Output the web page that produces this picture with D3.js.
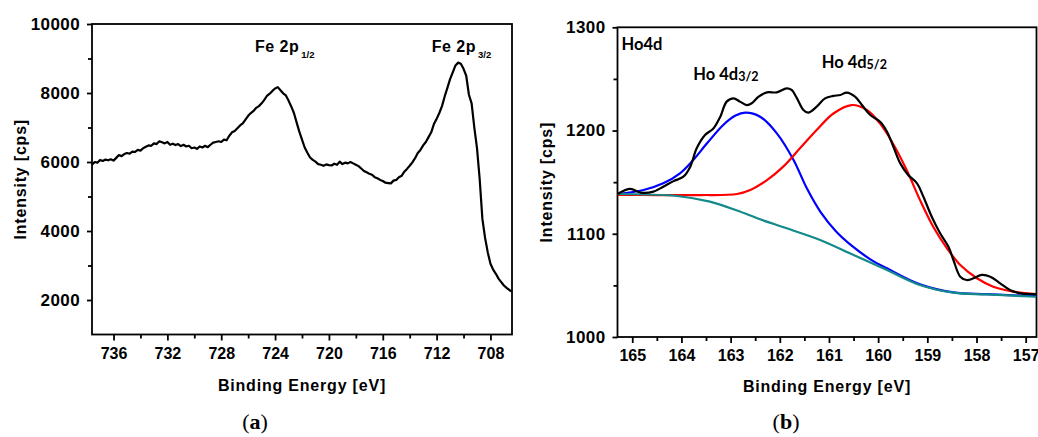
<!DOCTYPE html>
<html><head><meta charset="utf-8">
<script src="https://cdn.jsdelivr.net/npm/d3@7"></script>
<style>
body{margin:0;background:#fff;}
svg{display:block;}
</style></head>
<body><svg id="c" width="1038" height="437"></svg>
<script>
// ---------- Panel (a): Fe 2p ----------
const feEnergy = [737.6,737.4,737.2,737.0,736.8,736.6,736.4,736.2,736.0,735.8,735.6,735.4,735.2,735.0,734.8,734.6,734.4,734.2,734.0,733.8,733.6,733.4,733.2,733.0,732.8,732.6,732.4,732.2,732.0,731.8,731.6,731.4,731.2,731.0,730.8,730.6,730.4,730.2,730.0,729.8,729.6,729.4,729.2,729.0,728.8,728.6,728.4,728.2,728.0,727.8,727.6,727.4,727.2,727.0,726.8,726.6,726.4,726.2,726.0,725.8,725.6,725.4,725.2,725.0,724.8,724.6,724.4,724.2,724.0,723.8,723.6,723.4,723.2,723.0,722.8,722.6,722.4,722.2,722.0,721.8,721.6,721.4,721.2,721.0,720.8,720.6,720.4,720.2,720.0,719.8,719.6,719.4,719.2,719.0,718.8,718.6,718.4,718.2,718.0,717.8,717.6,717.4,717.2,717.0,716.8,716.6,716.4,716.2,716.0,715.8,715.6,715.4,715.2,715.0,714.8,714.6,714.4,714.2,714.0,713.8,713.6,713.4,713.2,713.0,712.8,712.6,712.4,712.2,712.0,711.8,711.6,711.4,711.2,711.0,710.8,710.6,710.4,710.2,710.0,709.8,709.6,709.4,709.2,709.0,708.8,708.6,708.4,708.2,708.0,707.8,707.6,707.4,707.2,707.0,706.8,706.6,706.45];
const feIntensity = [5920,6000,5980,6060,6030,6070,6050,6080,6040,6120,6200,6170,6230,6260,6240,6300,6290,6350,6330,6400,6440,6480,6470,6540,6520,6600,6570,6540,6580,6500,6530,6490,6520,6460,6500,6450,6470,6400,6420,6380,6450,6420,6470,6430,6500,6560,6580,6600,6580,6650,6630,6760,6860,6900,6980,7060,7120,7230,7340,7420,7480,7570,7620,7700,7800,7920,7980,8060,8130,8170,8080,7990,7930,7780,7610,7420,7150,6880,6650,6420,6270,6130,6060,6010,5940,5920,5890,5930,5910,5900,5950,5920,6010,5940,5980,5960,6000,5960,5920,5880,5810,5740,5700,5660,5630,5560,5530,5480,5450,5400,5390,5380,5460,5480,5560,5600,5720,5800,5890,5990,6110,6260,6350,6480,6580,6720,6860,7100,7250,7420,7620,7900,8150,8400,8600,8800,8880,8850,8700,8500,7950,7700,7000,6400,5500,4350,3800,3380,3050,2880,2760,2620,2520,2420,2350,2290,2250];
const feXMajor = [736,732,728,724,720,716,712,708];
const feXMinor = [734,730,726,722,718,714,710];
const feYMajor = [2000,4000,6000,8000,10000];
const feYMinor = [3000,5000,7000,9000];

// ---------- Panel (b): Ho 4d ----------
const hoRawEnergy = [165.30,165.04,164.83,164.57,164.37,164.16,163.96,163.82,163.69,163.52,163.35,163.21,163.08,162.94,162.81,162.67,162.57,162.43,162.26,162.06,161.86,161.76,161.65,161.52,161.42,161.25,161.08,160.91,160.77,160.64,160.47,160.33,160.16,159.96,159.82,159.69,159.55,159.39,159.21,159.08,158.91,158.74,158.57,158.47,158.33,158.20,158.06,157.89,157.72,157.52,157.32,157.11,156.84,156.78];
const hoRawIntensity = [1138.5,1143.4,1139.8,1140.8,1145.6,1151,1155.3,1165,1182.8,1195.7,1202,1213.4,1228,1231.2,1228,1224.7,1226.4,1232.8,1237,1237,1240.9,1239.3,1231.2,1219.9,1217.3,1223.1,1231.2,1233.5,1234.4,1236.7,1232.8,1224.7,1215,1208.5,1198.9,1184.3,1168.2,1157,1148.9,1135.9,1116.5,1100.5,1087.5,1074.6,1058.4,1055.2,1056.9,1060.1,1058.4,1052,1045.5,1042.3,1041.6,1041.5];

const ho52Energy = [165.3,164.5,163.62,162.87,162.60,162.26,161.93,161.59,161.25,160.91,160.54,160.23,159.96,159.72,159.42,159.15,158.88,158.60,158.33,157.99,157.66,157.25,156.78];
const ho52Intensity = [1137.6,1137.5,1137.5,1138.5,1142.4,1152,1165,1182.8,1200.5,1216.5,1224.7,1219.9,1206.7,1189.2,1161.8,1132.8,1106.8,1085.9,1069.7,1056.9,1048.7,1043.9,1041.6];

const ho32Energy = [165.3,164.77,164.37,164.03,163.76,163.48,163.15,162.90,162.70,162.40,162.06,161.72,161.45,161.17,160.85,160.50,160.15,159.82,159.15,158.47,157.79,156.78];
const ho32Intensity = [1138.5,1142.4,1148.9,1158.6,1171.5,1187.6,1205.4,1214.5,1217.3,1213.4,1197.3,1171.5,1144,1121,1102,1087,1075,1066.5,1051,1043.3,1041.5,1039.5];

const hoBgEnergy = [165.3,164.09,163.42,162.87,162.40,161.86,161.18,160.50,159.82,159.15,158.47,157.79,156.78];
const hoBgIntensity = [1138.5,1136.6,1131.1,1122.5,1114,1105.3,1094,1079.4,1064.9,1050.4,1042.9,1041.2,1039];

const hoXMajor = [165,164,163,162,161,160,159,158,157];
const hoXMinor = [164.5,163.5,162.5,161.5,160.5,159.5,158.5,157.5];
const hoYMajor = [1000,1100,1200,1300];
const hoYMinor = [1050,1150,1250];

const svg = d3.select("#c");
const TICKFONT = "'Liberation Sans', Arial, sans-serif";

function panel(o){
  const g = svg.append("g");
  const x = d3.scaleLinear().domain(o.xDomain).range([o.left, o.right]);
  const y = d3.scaleLinear().domain(o.yDomain).range([o.bottom, o.top]);
  const xm = d3.axisBottom(x).tickValues(o.xMinor).tickSize(4).tickFormat("");
  const ym = d3.axisLeft(y).tickValues(o.yMinor).tickSize(4).tickFormat("");
  g.append("g").attr("transform",`translate(0,${o.bottom})`).call(xm);
  g.append("g").attr("transform",`translate(${o.left},0)`).call(ym);
  const xa = d3.axisBottom(x).tickValues(o.xMajor).tickSize(6).tickPadding(7).tickFormat(d3.format("d"));
  const ya = d3.axisLeft(y).tickValues(o.yMajor).tickSize(5).tickPadding(7).tickFormat(d3.format("d"));
  const gx = g.append("g").attr("transform",`translate(0,${o.bottom})`).call(xa);
  const gy = g.append("g").attr("transform",`translate(${o.left},0)`).call(ya);
  gx.selectAll("text").style("font-size","16px");
  gy.selectAll("text").style("font-size","17px").style("letter-spacing","0.4px");
  g.selectAll(".domain").remove();
  g.selectAll(".tick line").attr("stroke","#000").attr("stroke-width",1.8);
  g.selectAll(".tick text").attr("fill","#000").style("font-family",TICKFONT).style("font-weight","bold");
  g.append("rect").attr("x",o.left).attr("y",o.top).attr("width",o.right-o.left).attr("height",o.bottom-o.top)
    .attr("fill","none").attr("stroke","#000").attr("stroke-width",1.8);
  const cid = "clip"+o.id;
  svg.append("clipPath").attr("id",cid).append("rect").attr("x",o.left).attr("y",o.top).attr("width",o.right-o.left).attr("height",o.bottom-o.top);
  const plot = g.append("g").attr("clip-path",`url(#${cid})`);
  g.append("text").attr("x",(o.left+o.right)/2).attr("y",o.xTitleY).attr("text-anchor","middle")
    .style("font-family",TICKFONT).style("font-weight","bold").style("font-size","16px").style("letter-spacing","0.8px")
    .text("Binding Energy [eV]");
  g.append("text").attr("transform",`translate(${o.yTitleX},${(o.top+o.bottom)/2}) rotate(-90)`).attr("text-anchor","middle")
    .style("font-family",TICKFONT).style("font-weight","bold").style("font-size","16px").style("letter-spacing","0.8px")
    .text("Intensity [cps]");
  const cap = g.append("text").attr("x",o.capX).attr("y",429).attr("text-anchor","middle")
    .style("font-family","'Liberation Serif','DejaVu Serif',serif").style("font-size","22px");
  cap.append("tspan").text("(");
  cap.append("tspan").style("font-weight","bold").text(o.cap);
  cap.append("tspan").text(")");
  return {x, y, plot, g};
}

// Panel a
const A = panel({id:"a", left:92, right:512, top:24, bottom:334.5,
  xDomain:[737.6,706.4], yDomain:[1000,10000],
  xMajor:feXMajor, xMinor:feXMinor, yMajor:feYMajor, yMinor:feYMinor,
  xTitleY:391, yTitleX:26, capX:255, cap:"a"});
A.plot.append("path").datum(d3.zip(feEnergy, feIntensity))
  .attr("fill","none").attr("stroke","#000").attr("stroke-width",2.2).attr("stroke-linejoin","round")
  .attr("d", d3.line().x(d=>A.x(d[0])).y(d=>A.y(d[1])));

function feLabel(xp, yp, sub){
  const t = svg.append("text").attr("x",xp).attr("y",yp)
    .style("font-family",TICKFONT).style("font-weight","bold").style("font-size","16px").style("letter-spacing","0.5px");
  t.append("tspan").text("Fe 2p");
  t.append("tspan").attr("dx",2).attr("dy",6.5).style("font-size","9.5px").style("letter-spacing","0px").text(sub);
}
feLabel(255, 51.7, "1/2");
feLabel(431.7, 51.7, "3/2");

// Panel b
const B = panel({id:"b", left:617.5, right:1036.5, top:27.3, bottom:337,
  xDomain:[165.3,156.78], yDomain:[1000,1300],
  xMajor:hoXMajor, xMinor:hoXMinor, yMajor:hoYMajor, yMinor:hoYMinor,
  xTitleY:391.5, yTitleX:551.5, capX:786, cap:"b"});
const lineB = d3.line().x(d=>B.x(d[0])).y(d=>B.y(d[1])).curve(d3.curveCatmullRom.alpha(0.5));
[[ho32Energy,ho32Intensity,"#0000ff"],[ho52Energy,ho52Intensity,"#ff0000"],[hoBgEnergy,hoBgIntensity,"#13898a"],[hoRawEnergy,hoRawIntensity,"#000000"]]
 .forEach(([e,v,c])=>{
  B.plot.append("path").datum(d3.zip(e,v)).attr("fill","none").attr("stroke",c).attr("stroke-width",2.2)
   .attr("stroke-linejoin","round").attr("d",lineB);
 });

const HOFONT = "Lato, 'Open Sans', sans-serif";
function hoLabel(xp, yp, main, sub){
  const t = svg.append("text").attr("x",xp).attr("y",yp)
    .style("font-family",HOFONT).style("font-weight","bold").style("font-size","16.5px");
  t.append("tspan").text(main);
  if(sub) t.append("tspan").attr("dy",0.5).style("font-size","12.5px").text(sub);
}
hoLabel(621.5, 50, "Ho4d");
hoLabel(693.3, 80, "Ho 4d", "3/2");
hoLabel(821.7, 68.3, "Ho 4d", "5/2");
</script>
</body></html>
